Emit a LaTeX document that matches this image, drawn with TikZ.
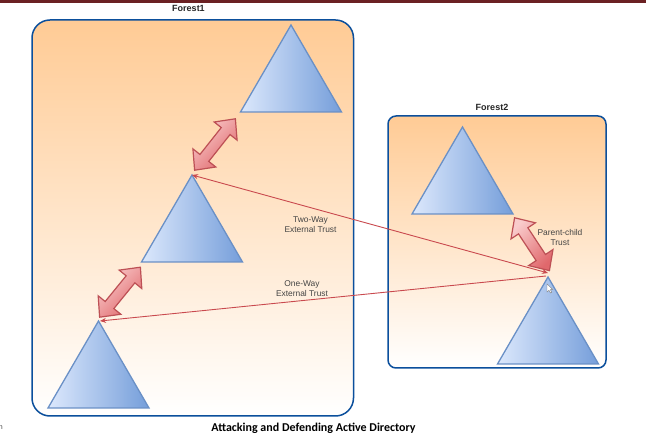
\documentclass[tikz,border=0pt]{standalone}
\usepackage{fontspec}
\setmainfont{Liberation Sans}
\newfontfamily\titlefont{Carlito}
\usetikzlibrary{shapes.geometric,shapes.arrows,arrows.meta}
\definecolor{boxline}{HTML}{0B4F9C}
\definecolor{boxtop}{HTML}{FFCB95}
\definecolor{triline}{HTML}{6A90C6}
\definecolor{trileft}{HTML}{DCE8FC}
\definecolor{triright}{HTML}{759EDA}
\definecolor{redline}{HTML}{C9494E}
\definecolor{arrowline}{HTML}{BD5055}
\definecolor{arrowlight}{HTML}{F9CBCB}
\definecolor{arrowdark}{HTML}{E0686C}
\definecolor{bartop}{HTML}{6B2123}
\definecolor{labeltext}{HTML}{444444}
\tikzset{
  forestbox/.style={draw=boxline,line width=1.5pt,top color=boxtop,bottom color=white,inner sep=0pt,outer sep=0pt,anchor=north west},
  tree/.style={isosceles triangle,isosceles triangle stretches,shape border rotate=90,draw=triline,line width=1.3pt,left color=trileft,right color=triright,inner sep=0pt,outer sep=0pt,minimum width=101pt,minimum height=87pt,anchor=apex},
  trustarrow/.style={double arrow,draw=arrowline,line width=1.2pt,top color=arrowlight,bottom color=arrowdark,shading angle=45,inner xsep=0pt,inner ysep=5pt,outer sep=0pt,double arrow head extend=9pt,double arrow tip angle=86},
  trustline/.style={draw=redline,line width=0.9pt,{Stealth[length=6pt,width=5pt]}-{Stealth[length=6pt,width=5pt]}},
  onewayline/.style={draw=redline,line width=0.9pt,-{Stealth[length=6pt,width=5pt]}},
  trustlabel/.style={text=labeltext,font=\fontsize{8.4pt}{10pt}\selectfont,align=center,inner sep=0pt},
  foresttitle/.style={text=black!85,font=\fontsize{9pt}{10pt}\selectfont\bfseries,inner sep=0pt}
}
\begin{document}
\begin{tikzpicture}[x=1pt,y=-1pt]
\useasboundingbox (0,0) rectangle (646,446);
\fill[white] (0,0) rectangle (646,446);
\fill[bartop] (0,0) rectangle (646,2.7);
\node[forestbox,rounded corners=18pt,minimum width=321.5pt,minimum height=396pt] (forest1) at (32,20) {};
\node[forestbox,rounded corners=8pt,minimum width=218pt,minimum height=252pt] (forest2) at (388,116) {};
\node[tree] (t1) at (291,25) {};
\node[tree] (t2) at (192,175) {};
\node[tree] (t3) at (98.5,321) {};
\node[tree] (t4) at (462.5,127) {};
\node[tree] (t5) at (548,277) {};
\node[trustarrow,minimum height=65.6pt,rotate=51.6] (a1) at (215,144.5) {};
\node[trustarrow,minimum height=64.5pt,rotate=50.8] (a2) at (120,292.2) {};
\node[trustarrow,minimum height=63.3pt,rotate=123.4] (a3) at (532,244.2) {};
\draw[trustline] (t2.apex) -- ([yshift=4pt]t5.apex);
\draw[onewayline] ([yshift=1pt,xshift=-2pt]t5.apex) -- ([xshift=1.5pt]t3.apex);
\node[foresttitle] (title1) at (188.5,8.5) {Forest1};
\node[foresttitle] (title2) at (492,107) {Forest2};
\node[trustlabel] (l1) at (310.5,224.5) {Two-Way\\External Trust};
\node[trustlabel] (l2) at (302,289) {One-Way\\External Trust};
\node[trustlabel] (l3) at (560,237.8) {Parent-child\\Trust};
\node[inner sep=0pt,font=\titlefont\bfseries\fontsize{12pt}{14pt}\selectfont] (caption) at (313.5,428) {Attacking and Defending Active Directory};
\node[inner sep=0pt,text=labeltext,font=\fontsize{7pt}{8pt}\selectfont,anchor=east] (stray) at (3,428) {n};
\draw[gray,fill=white,line width=0.4pt] (547,284) -- (547,292) -- (549,290.3) -- (550.5,293) -- (551.7,292.3) -- (550.4,289.7) -- (552.8,289.5) -- cycle;
\end{tikzpicture}
\end{document}
